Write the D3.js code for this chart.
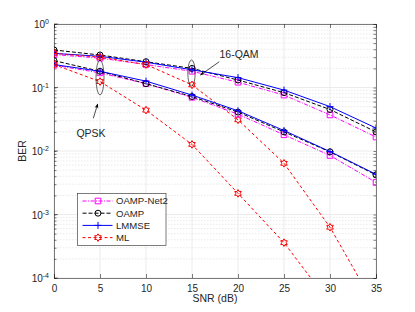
<!DOCTYPE html>
<html>
<head>
<meta charset="utf-8">
<script src="https://cdn.jsdelivr.net/npm/d3@7/dist/d3.min.js"></script>
<style>
  body { margin: 0; background: #fff; }
  text { font-family: "Liberation Sans", Arial, sans-serif; fill: #262626; }
</style>
</head>
<body>
<script>
const snr = [0, 5, 10, 15, 20, 25, 30, 35];
const xTicks = [0, 5, 10, 15, 20, 25, 30, 35];
const yTicks = [1, 0.1, 0.01, 0.001, 0.0001];
const yTickExp = ['0', '-1', '-2', '-3', '-4'];

// 16-QAM
const net2_16 = [0.33, 0.29, 0.23, 0.18, 0.121, 0.076, 0.037, 0.0166];
const oamp_16 = [0.39, 0.325, 0.255, 0.20, 0.131, 0.083, 0.045, 0.020];
const lmmse_16 = [0.345, 0.31, 0.25, 0.19, 0.143, 0.091, 0.050, 0.023];
const ml_16 = [0.345, 0.30, 0.23, 0.11, 0.031, 0.0064, 0.00063, 0.000034];
// QPSK
const net2_4 = [0.225, 0.17, 0.115, 0.070, 0.038, 0.018, 0.0085, 0.0032];
const oamp_4 = [0.265, 0.18, 0.115, 0.072, 0.041, 0.020, 0.0097, 0.0042];
const lmmse_4 = [0.23, 0.18, 0.126, 0.076, 0.043, 0.021, 0.0098, 0.0043];
const ml_4 = [0.23, 0.124, 0.044, 0.0127, 0.00215, 0.00036, 0.00004];

const names = ['OAMP-Net2', 'OAMP', 'LMMSE', 'ML'];

const W = 415, H = 312;
const m = {l: 54, r: 39, t: 24, b: 34};

const svg = d3.select('body').append('svg')
  .attr('width', W).attr('height', H);

const x = d3.scaleLinear().domain([0, 35]).range([m.l, W - m.r]);
const y = d3.scaleLog().domain([1e-4, 1]).range([H - m.b, m.t]);

// grid
const grid = svg.append('g');
const minor = [];
for (let e = -4; e < 0; e++) for (let k = 2; k <= 9; k++) minor.push(k * Math.pow(10, e));
grid.selectAll('line.minor').data(minor).enter().append('line')
  .attr('x1', m.l).attr('x2', W - m.r)
  .attr('y1', d => y(d)).attr('y2', d => y(d))
  .attr('stroke', '#dcdcdc').attr('stroke-width', 0.6).attr('stroke-dasharray', '1.5,1.5');
grid.selectAll('line.hy').data(yTicks).enter().append('line')
  .attr('x1', m.l).attr('x2', W - m.r)
  .attr('y1', d => y(d)).attr('y2', d => y(d))
  .attr('stroke', '#e6e6e6').attr('stroke-width', 0.8);
grid.selectAll('line.vx').data(xTicks).enter().append('line')
  .attr('y1', m.t).attr('y2', H - m.b)
  .attr('x1', d => x(d)).attr('x2', d => x(d))
  .attr('stroke', '#e6e6e6').attr('stroke-width', 0.8);

// axes
const xAxis = d3.axisBottom(x).tickValues(xTicks).tickSize(-4).tickPadding(7);
const gx = svg.append('g').attr('transform', `translate(0,${H - m.b})`).call(xAxis);
gx.selectAll('text').attr('font-size', 10).attr('fill', '#262626');
const xTop = d3.axisTop(x).tickValues(xTicks).tickSize(-4).tickFormat('');
svg.append('g').attr('transform', `translate(0,${m.t})`).call(xTop);

const yAxis = d3.axisLeft(y).tickValues(minor.concat(yTicks)).tickSize(-2.5).tickFormat('');
svg.append('g').attr('transform', `translate(${m.l},0)`).call(yAxis);
const yR = d3.axisRight(y).tickValues(minor.concat(yTicks)).tickSize(-2.5).tickFormat('');
svg.append('g').attr('transform', `translate(${W - m.r},0)`).call(yR);
svg.selectAll('.domain, .tick line').attr('stroke', '#262626').attr('stroke-width', 0.6);
// major y ticks a bit longer
svg.append('g').selectAll('line').data(yTicks).enter().append('line')
  .attr('x1', m.l).attr('x2', m.l + 4).attr('y1', d => y(d)).attr('y2', d => y(d))
  .attr('stroke', '#262626').attr('stroke-width', 0.6);

const yl = svg.append('g').selectAll('text').data(yTicks).enter().append('text')
  .attr('x', m.l - 5).attr('y', d => y(d) + 4)
  .attr('text-anchor', 'end').attr('font-size', 10);
yl.append('tspan').text('10');
yl.append('tspan').attr('dy', -4).attr('font-size', 7).text((d, i) => yTickExp[i]);

svg.append('text').attr('x', x(17.5)).attr('y', H - 10)
  .attr('text-anchor', 'middle').attr('font-size', 10.5).text('SNR (dB)');
svg.append('text').attr('transform', `translate(25.5,${y(0.01)}) rotate(-90)`)
  .attr('text-anchor', 'middle').attr('font-size', 10.5).text('BER');

// clip
svg.append('clipPath').attr('id', 'clip').append('rect')
  .attr('x', m.l).attr('y', m.t).attr('width', W - m.l - m.r).attr('height', H - m.t - m.b);
const plot = svg.append('g').attr('clip-path', 'url(#clip)');

function hexagram(r) {
  const p = [];
  for (let i = 0; i < 12; i++) {
    const a = -Math.PI / 2 + i * Math.PI / 6;
    const rr = i % 2 === 0 ? r : r * 0.58;
    p.push([rr * Math.cos(a), rr * Math.sin(a)]);
  }
  return 'M' + p.map(q => q.join(',')).join('L') + 'Z';
}
const markers = {
  square: 'M-2.8,-2.8H2.8V2.8H-2.8Z',
  circle: d3.symbol(d3.symbolCircle, 28)(),
  plus: 'M-3.5,0H3.5M0,-3.5V3.5',
  hex: hexagram(3.8)
};

const styles = [
  {color: '#ff00ff', dash: '4,1.5,1,1.5', marker: 'square'},
  {color: '#000000', dash: '4,2', marker: 'circle'},
  {color: '#0000ff', dash: null, marker: 'plus'},
  {color: '#ff0000', dash: '3,2.5', marker: 'hex'}
];

const series = [
  [net2_16, 0], [oamp_16, 1], [lmmse_16, 2], [ml_16, 3],
  [net2_4, 0], [oamp_4, 1], [lmmse_4, 2], [ml_4, 3]
];

const line = d3.line().x((d, i) => x(snr[i])).y(d => y(d));

series.forEach(([vals, si]) => {
  const s = styles[si];
  plot.append('path').datum(vals).attr('d', line)
    .attr('fill', 'none').attr('stroke', s.color).attr('stroke-width', 1)
    .attr('stroke-dasharray', s.dash);
  plot.selectAll(null).data(vals).enter().append('path')
    .attr('transform', (d, i) => `translate(${x(snr[i])},${y(d)})`)
    .attr('d', markers[s.marker])
    .attr('fill', 'none').attr('stroke', s.color).attr('stroke-width', 1);
});

// annotations
const ann = svg.append('g');
ann.append('ellipse').attr('cx', x(5)).attr('cy', 77.5).attr('rx', 4).attr('ry', 17.5)
  .attr('fill', 'none').attr('stroke', '#000').attr('stroke-width', 0.6);
ann.append('ellipse').attr('cx', x(15) - 0.5).attr('cy', 73).attr('rx', 3.7).attr('ry', 13)
  .attr('fill', 'none').attr('stroke', '#000').attr('stroke-width', 0.6);

svg.append('defs').append('marker').attr('id', 'arr')
  .attr('viewBox', '0 0 10 10').attr('refX', 9).attr('refY', 5)
  .attr('markerWidth', 7).attr('markerHeight', 7).attr('orient', 'auto')
  .append('path').attr('d', 'M0,1L10,5L0,9L3,5Z').attr('fill', '#000');
ann.append('line').attr('x1', 93.3).attr('y1', 118.3).attr('x2', 97.7).attr('y2', 104)
  .attr('stroke', '#000').attr('stroke-width', 0.7).attr('marker-end', 'url(#arr)');
ann.append('line').attr('x1', 219.3).attr('y1', 61.7).attr('x2', 200.5).attr('y2', 75)
  .attr('stroke', '#000').attr('stroke-width', 0.7).attr('marker-end', 'url(#arr)');
ann.append('text').attr('x', 91).attr('y', 137).attr('text-anchor', 'middle')
  .attr('font-size', 10.5).text('QPSK');
ann.append('text').attr('x', 239).attr('y', 57.5).attr('text-anchor', 'middle')
  .attr('font-size', 10.5).text('16-QAM');

// legend
const lg = svg.append('g').attr('transform', 'translate(77.5,193.5)');
lg.append('rect').attr('width', 88.5).attr('height', 52)
  .attr('fill', '#fff').attr('stroke', '#262626').attr('stroke-width', 0.6);
names.forEach((n, i) => {
  const s = styles[i];
  const g = lg.append('g').attr('transform', `translate(0,${7.5 + i * 12.2})`);
  g.append('line').attr('x1', 5).attr('x2', 35)
    .attr('stroke', s.color).attr('stroke-width', 1).attr('stroke-dasharray', s.dash);
  g.append('path').attr('transform', 'translate(20.5,0)').attr('d', markers[s.marker])
    .attr('fill', 'none').attr('stroke', s.color).attr('stroke-width', 1);
  g.append('text').attr('x', 38.5).attr('y', 3.4).attr('font-size', 9.6).text(n);
});
</script>
</body>
</html>
